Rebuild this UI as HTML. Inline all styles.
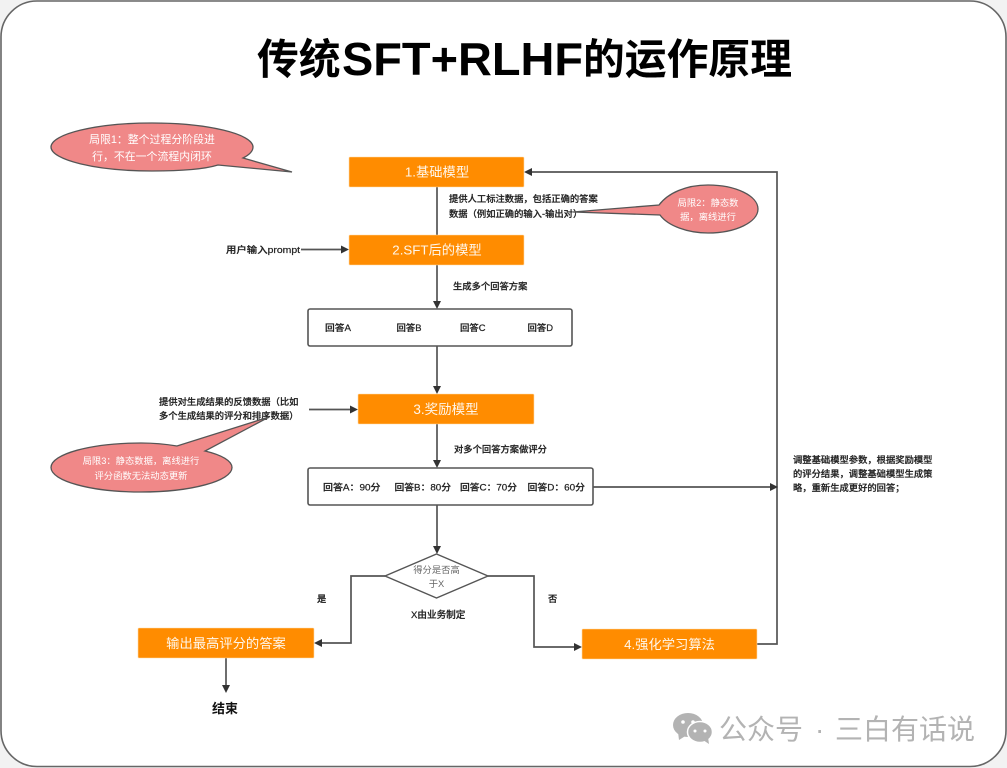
<!DOCTYPE html>
<html><head><meta charset="utf-8">
<style>
html,body{margin:0;padding:0;background:#f2f2f2;}
svg{display:block;}
text{font-family:"Liberation Sans","Noto Sans CJK SC",sans-serif;}
.s{font-size:9.3px;fill:#222;font-weight:500;stroke:#222;stroke-width:.22px;}
.w{fill:#fff6ea;font-size:13.3px;text-anchor:middle;}
.c{fill:#fff;font-size:9.6px;text-anchor:middle;}
.l{fill:none;stroke:#555;stroke-width:1.7;}
.a{fill:#333;}
.o{fill:#ff8c00;stroke:#ffd9a8;stroke-width:.6;}
.b{fill:#fff;stroke:#555;stroke-width:1.6;}
.p{fill:#f08888;stroke:#555;stroke-width:1.3;}
.t{font-size:41.8px;font-weight:700;fill:#000;}
</style></head><body>
<svg width="1007" height="768" viewBox="0 0 1007 768" xmlns="http://www.w3.org/2000/svg">
<rect x="0" y="0" width="1007" height="768" fill="#f2f2f2"/>
<rect x="1" y="1" width="1005" height="765.5" rx="36" ry="36" fill="#fff" stroke="#666" stroke-width="1.6"/>

<text class="t" x="257" y="74">传统</text>
<text x="342" y="75" font-size="46" font-weight="700" fill="#000" textLength="241" lengthAdjust="spacingAndGlyphs">SFT+RLHF</text>
<text class="t" x="583" y="74">的运作原理</text>

<!-- connectors -->
<path class="l" d="M437 187V258M437 265V302M437 346V386M437 424V461M437 505V547"/>
<path class="l" d="M301 249.500H342"/>
<path class="l" d="M309 409.500H351"/>
<path class="l" d="M593 487H772"/>
<path class="l" d="M385 576H351V643H321"/>
<path class="l" d="M488 576H534V647H574"/>
<path class="l" d="M226 658V686"/>
<path class="l" d="M756 644H777V172H532"/>
<g class="a">
<polygon points="433,257 441,257 437,265"/>
<polygon points="433,301 441,301 437,309"/>
<polygon points="433,386 441,386 437,394"/>
<polygon points="433,460 441,460 437,468"/>
<polygon points="433,546 441,546 437,554"/>
<polygon points="341,245.500 349,249.500 341,253.500"/>
<polygon points="350,405.500 358,409.500 350,413.500"/>
<polygon points="770,483 778,487 770,491"/>
<polygon points="322,639 314,643 322,647"/>
<polygon points="574,643 582,647 574,651"/>
<polygon points="222,685 230,685 226,693"/>
<polygon points="532,168 532,176 524,172"/>
</g>

<!-- boxes -->
<rect class="o" x="349" y="157" width="175" height="30" rx="1"/>
<text class="w" x="437" y="176.500">1.基础模型</text>
<rect class="o" x="349" y="235" width="175" height="30" rx="1"/>
<text class="w" x="437" y="254.500">2.SFT后的模型</text>
<rect class="b" x="308" y="309" width="264" height="37" rx="2"/>
<text class="s" x="325" y="331" textLength="26" lengthAdjust="spacingAndGlyphs">回答A</text>
<text class="s" x="396.500" y="331" textLength="25" lengthAdjust="spacingAndGlyphs">回答B</text>
<text class="s" x="460" y="331" textLength="25.500" lengthAdjust="spacingAndGlyphs">回答C</text>
<text class="s" x="527.500" y="331" textLength="25.500" lengthAdjust="spacingAndGlyphs">回答D</text>
<rect class="o" x="358" y="394" width="176" height="30" rx="1"/>
<text class="w" x="446" y="414" style="font-size:13.500px">3.奖励模型</text>
<rect class="b" x="308" y="468" width="285" height="37" rx="2"/>
<text class="s" x="323" y="490.500" textLength="57.500" lengthAdjust="spacingAndGlyphs">回答A：90分</text>
<text class="s" x="394.500" y="490.500" textLength="56.500" lengthAdjust="spacingAndGlyphs">回答B：80分</text>
<text class="s" x="460" y="490.500" textLength="57" lengthAdjust="spacingAndGlyphs">回答C：70分</text>
<text class="s" x="527.500" y="490.500" textLength="57.500" lengthAdjust="spacingAndGlyphs">回答D：60分</text>
<polygon points="436.500,554 488,576 436.500,598 385,576" fill="#fff" stroke="#555" stroke-width="1.400"/>
<text x="436.500" y="573" font-size="9.300" fill="#666" text-anchor="middle">得分是否高</text>
<text x="436.500" y="587" font-size="9.300" fill="#666" text-anchor="middle">于X</text>
<rect class="o" x="138" y="628" width="176" height="30" rx="1"/>
<text class="w" x="226" y="648">输出最高评分的答案</text>
<rect class="o" x="582" y="629" width="175" height="30" rx="1"/>
<text class="w" x="669.500" y="649">4.强化学习算法</text>

<!-- labels -->
<text class="s" x="449" y="202">提供人工标注数据，包括正确的答案</text>
<text class="s" x="449" y="217">数据（例如正确的输入-输出对）</text>
<text class="s" x="226" y="253" textLength="74" lengthAdjust="spacingAndGlyphs">用户输入prompt</text>
<text class="s" x="453" y="289.500">生成多个回答方案</text>
<text class="s" x="159" y="405">提供对生成结果的反馈数据（比如</text>
<text class="s" x="159" y="419">多个生成结果的评分和排序数据）</text>
<text class="s" x="454" y="452.500">对多个回答方案做评分</text>
<text class="s" x="317" y="602">是</text>
<text class="s" x="411" y="618" style="font-size:9.600px">X由业务制定</text>
<text class="s" x="548" y="602">否</text>
<text x="212" y="713" font-size="13" font-weight="700" fill="#111">结束</text>
<text class="s" x="793" y="463">调整基础模型参数，根据奖励模型</text>
<text class="s" x="793" y="477">的评分结果，调整基础模型生成策</text>
<text class="s" x="793" y="491">略，重新生成更好的回答；</text>

<!-- callouts -->
<path class="p" d="M218 165C205 169 180 171 152 171C96 171 51 160 51 147C51 134 96 123 152 123C208 123 253 134 253 147C253 151 249 155 243 158L292 172Z"/>
<text class="c" x="152" y="143" style="font-size:10.900px">局限1：整个过程分阶段进</text>
<text class="c" x="152" y="160" style="font-size:10.900px">行，不在一个流程内闭环</text>

<path class="p" d="M660 215C668 226 688 233 708 233C736 233 758 222 758 209C758 196 736 185 708 185C686 185 668 193 659 205L573 212Z"/>
<text class="c" x="708" y="206" style="font-size:9.300px">局限2：静态数</text>
<text class="c" x="708" y="220" style="font-size:9.300px">据，离线进行</text>

<path class="p" d="M177 446C165 444 153 443 141 443C91 443 51 454 51 467.500C51 481 91 492 141 492C191 492 232 481 232 467.500C232 461 222 455 205 451L269 417Z"/>
<text class="c" x="141" y="464" style="font-size:9.300px">局限3：静态数据，离线进行</text>
<text class="c" x="141" y="479" style="font-size:9.300px">评分函数无法动态更新</text>

<!-- watermark -->
<g fill="#b3b3b3">
<ellipse cx="688" cy="725" rx="15" ry="12"/>
<polygon points="678,732 679,740 687,735"/>
</g>
<ellipse cx="700" cy="732" rx="12.500" ry="10.500" fill="#b3b3b3" stroke="#fff" stroke-width="1.500"/>
<polygon points="703,740 709,744 708,737" fill="#b3b3b3"/>
<g fill="#fff">
<circle cx="683" cy="722" r="1.800"/><circle cx="693" cy="722" r="1.800"/>
<circle cx="695" cy="731" r="1.500"/><circle cx="705" cy="731" r="1.500"/>
</g>
<text x="719" y="739" font-size="28" fill="#b3b3b3">公众号</text>
<text x="815" y="739" font-size="28" fill="#b3b3b3">·</text>
<text x="835" y="739" font-size="28" fill="#b3b3b3">三白有话说</text>
</svg>
</body></html>
